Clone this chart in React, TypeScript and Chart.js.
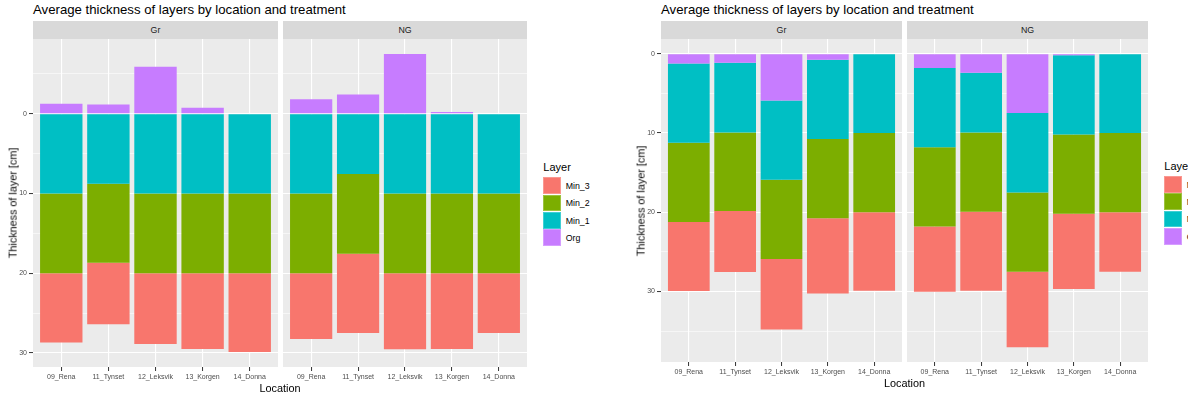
import React, { useEffect, useRef } from "react";
import { Chart, registerables } from "chart.js";

Chart.register(...registerables);

// ---------- data ----------
const locations = ["09_Rena", "11_Tynset", "12_Leksvik", "13_Korgen", "14_Donna"];
const layers = ["Min_3", "Min_2", "Min_1", "Org"];
const layerColors = ["#F8766D", "#7CAE00", "#00BFC4", "#C77CFF"];

// average layer thickness [cm], treatment Gr
const grOrg = [1.25, 1.15, 5.9, 0.75, 0];
const grMin1 = [10, 8.8, 10, 10, 10];
const grMin2 = [10, 9.9, 10, 10, 10];
const grMin3 = [8.7, 7.7, 8.9, 9.5, 9.9];

// average layer thickness [cm], treatment NG
const ngOrg = [1.8, 2.4, 7.5, 0.2, 0];
const ngMin1 = [10, 7.55, 10, 10, 10];
const ngMin2 = [10, 10, 10, 10, 10];
const ngMin3 = [8.25, 9.95, 9.55, 9.5, 7.5];

const majorTicks = [0, 10, 20, 30];
const minorTicks = [-5, 5, 15, 25, 35];

const chartTitle = "Average thickness of layers by location and treatment";
const yTitle = "Thickness of layer [cm]";
const xTitle = "Location";
const legendTitle = "Layer";

// ---------- helpers ----------
const FONT = '"Liberation Sans", Arial, Helvetica, sans-serif';

type Facet = { name: string; org: number[]; min1: number[]; min2: number[]; min3: number[] };
const facets: Facet[] = [
  { name: "Gr", org: grOrg, min1: grMin1, min2: grMin2, min3: grMin3 },
  { name: "NG", org: ngOrg, min1: ngMin1, min2: ngMin2, min3: ngMin3 },
];

const colorOf = (name: string) => layerColors[layers.indexOf(name)];

function expand(lo: number, hi: number): [number, number] {
  const r = hi - lo;
  return [lo - 0.05 * r, hi + 0.05 * r];
}

// left figure: Org drawn above 0 (negative), mineral layers below 0
const leftRange = expand(
  Math.min(...facets.flatMap((f) => f.org.map((v) => -v))),
  Math.max(...facets.flatMap((f) => f.min1.map((v, i) => v + f.min2[i] + f.min3[i])))
);
// right figure: all layers stacked from the surface
const rightRange = expand(
  0,
  Math.max(...facets.flatMap((f) => f.org.map((v, i) => v + f.min1[i] + f.min2[i] + f.min3[i])))
);

type PanelProps = {
  x: number;
  y: number;
  axisW: number;
  w: number;
  h: number;
  axisH: number;
  facet: Facet;
  mode: "left" | "right";
  range: [number, number];
  showY: boolean;
};

function Panel({ x, y, axisW, w, h, axisH, facet, mode, range, showY }: PanelProps) {
  const ref = useRef<HTMLCanvasElement>(null);
  useEffect(() => {
    if (!ref.current) return;
    const order: [string, number[], number][] =
      mode === "left"
        ? [
            ["Min_1", facet.min1, 1],
            ["Min_2", facet.min2, 1],
            ["Min_3", facet.min3, 1],
            ["Org", facet.org, -1],
          ]
        : [
            ["Org", facet.org, 1],
            ["Min_1", facet.min1, 1],
            ["Min_2", facet.min2, 1],
            ["Min_3", facet.min3, 1],
          ];
    const datasets = order.map(([name, arr, s]) => ({
      label: name,
      data: arr.map((v, i) => ({ x: i + 1, y: s * v })),
      backgroundColor: colorOf(name),
      borderWidth: 0,
      categoryPercentage: 1,
      barPercentage: 0.9,
    }));
    const yTicks = [...majorTicks, ...minorTicks]
      .filter((v) => v > range[0] && v < range[1])
      .sort((a, b) => a - b);
    const isMajor = (v: any) => majorTicks.includes(v);
    const bg = {
      id: "panelBg",
      beforeDraw(chart: any) {
        const { ctx, chartArea: a } = chart;
        ctx.save();
        ctx.fillStyle = "#EBEBEB";
        ctx.fillRect(a.left, a.top, a.right - a.left, a.bottom - a.top);
        ctx.restore();
      },
    };
    const chart = new Chart(ref.current, {
      type: "bar",
      data: { datasets } as any,
      options: {
        responsive: false,
        animation: false,
        devicePixelRatio: 1,
        layout: { padding: 0 },
        plugins: {
          legend: { display: false },
          tooltip: { enabled: false },
          title: { display: false },
        },
        scales: {
          x: {
            type: "linear",
            min: 0.4,
            max: locations.length + 0.6,
            bounds: "data",
            stacked: true,
            offset: false,
            afterBuildTicks: (s: any) => {
              s.ticks = locations.map((_, i) => ({ value: i + 1 }));
            },
            afterFit: (s: any) => {
              s.height = axisH;
              s.paddingLeft = 0;
              s.paddingRight = 0;
            },
            grid: {
              color: "#FFFFFF",
              lineWidth: 1.1,
              drawTicks: true,
              tickLength: 4,
              tickColor: "#333333",
              tickWidth: 1,
              offset: false,
            },
            border: { display: false },
            ticks: {
              autoSkip: false,
              maxRotation: 0,
              minRotation: 0,
              padding: 2,
              color: "#4D4D4D",
              font: { family: FONT, size: 7 },
              callback: (v: any) => locations[Math.round(v) - 1] ?? "",
            },
          },
          y: {
            type: "linear",
            reverse: true,
            min: range[0],
            max: range[1],
            bounds: "data",
            stacked: true,
            afterBuildTicks: (s: any) => {
              s.ticks = yTicks.map((v) => ({ value: v }));
            },
            afterFit: (s: any) => {
              s.width = axisW;
              s.paddingTop = 0;
              s.paddingBottom = 0;
            },
            grid: {
              color: "#FFFFFF",
              lineWidth: (c: any) => (isMajor(c.tick?.value) ? 1.1 : 0.55),
              drawTicks: showY,
              tickLength: 4,
              tickColor: (c: any) => (isMajor(c.tick?.value) ? "#333333" : "rgba(0,0,0,0)"),
              tickWidth: 1,
            },
            border: { display: false },
            ticks: {
              display: showY,
              padding: 2,
              color: "#4D4D4D",
              font: { family: FONT, size: 7 },
              callback: (v: any) => (isMajor(v) ? String(v) : ""),
            },
          },
        },
      } as any,
      plugins: [bg],
    });
    return () => chart.destroy();
  }, []);
  const cw = axisW + w;
  const ch = h + axisH;
  return (
    <canvas
      ref={ref}
      width={cw}
      height={ch}
      style={{ position: "absolute", left: x - axisW, top: y, width: cw, height: ch }}
    />
  );
}

function Txt({
  x,
  y,
  size,
  color = "#000",
  anchor = "center",
  rotate = false,
  children,
}: {
  x: number;
  y: number;
  size: number;
  color?: string;
  anchor?: "left" | "center";
  rotate?: boolean;
  children: React.ReactNode;
}) {
  const tx = anchor === "center" ? "-50%" : "0";
  return (
    <div
      style={{
        position: "absolute",
        left: x,
        top: y,
        fontSize: size,
        lineHeight: 1,
        color,
        whiteSpace: "nowrap",
        fontFamily: FONT,
        transform: `translate(${tx}, -50%)${rotate ? " rotate(-90deg)" : ""}`,
        transformOrigin: rotate ? "0 0" : undefined,
      }}
    >
      {children}
    </div>
  );
}

function RotTxt({ x, y, size, children }: { x: number; y: number; size: number; children: React.ReactNode }) {
  return (
    <div
      style={{
        position: "absolute",
        left: x,
        top: y,
        fontSize: size,
        lineHeight: 1,
        whiteSpace: "nowrap",
        fontFamily: FONT,
        color: "#000",
        transform: "translate(-50%, -50%) rotate(-90deg)",
      }}
    >
      {children}
    </div>
  );
}

function Strip({ x, w, label }: { x: number; w: number; label: string }) {
  return (
    <div
      style={{
        position: "absolute",
        left: x,
        top: 21,
        width: w,
        height: 18,
        background: "#D9D9D9",
        color: "#1A1A1A",
        fontFamily: FONT,
        fontSize: 8.8,
        lineHeight: "18px",
        textAlign: "center",
      }}
    >
      {label}
    </div>
  );
}

function Legend({ x, y }: { x: number; y: number }) {
  const key = 17.3;
  return (
    <>
      <Txt x={x} y={y} size={11} anchor="left">
        {legendTitle}
      </Txt>
      {layers.map((name, i) => (
        <React.Fragment key={name}>
          <div
            style={{
              position: "absolute",
              left: x,
              top: y + 10.3 + i * key,
              width: key,
              height: key - 0.6,
              background: colorOf(name),
              boxShadow: "inset 0 0 0 1px rgba(255,255,255,0.25)",
            }}
          />
          <Txt x={x + 22.4} y={y + 10.3 + i * key + key / 2} size={8.8} anchor="left">
            {name}
          </Txt>
        </React.Fragment>
      ))}
    </>
  );
}

export default function App() {
  // left figure geometry
  const L = { grX: 33, ngX: 283, pw: 245, pwNg: 244, top: 39, h: 328 };
  // right figure geometry
  const R = { grX: 661, ngX: 907, pw: 241, top: 39, h: 323 };
  return (
    <div
      style={{
        position: "fixed",
        left: 0,
        top: 0,
        width: 1188,
        height: 398,
        overflow: "hidden",
        background: "#FFFFFF",
        fontFamily: FONT,
      }}
    >
      {/* ---------- left figure ---------- */}
      <Txt x={33} y={10} size={13.2} anchor="left">
        {chartTitle}
      </Txt>
      <Strip x={L.grX} w={L.pw} label={facets[0].name} />
      <Strip x={L.ngX} w={L.pwNg} label={facets[1].name} />
      <Panel x={L.grX} y={L.top} axisW={33} w={L.pw} h={L.h} axisH={30} facet={facets[0]} mode="left" range={leftRange} showY={true} />
      <Panel x={L.ngX} y={L.top} axisW={0} w={L.pwNg} h={L.h} axisH={30} facet={facets[1]} mode="left" range={leftRange} showY={false} />
      <RotTxt x={13.3} y={203} size={10.8}>
        {yTitle}
      </RotTxt>
      <Txt x={280} y={388.3} size={10.9}>
        {xTitle}
      </Txt>
      <Legend x={543.3} y={167} />

      {/* ---------- right figure ---------- */}
      <Txt x={661} y={10} size={13.2} anchor="left">
        {chartTitle}
      </Txt>
      <Strip x={R.grX} w={R.pw} label={facets[0].name} />
      <Strip x={R.ngX} w={R.pw} label={facets[1].name} />
      <Panel x={R.grX} y={R.top} axisW={41} w={R.pw} h={R.h} axisH={30} facet={facets[0]} mode="right" range={rightRange} showY={true} />
      <Panel x={R.ngX} y={R.top} axisW={0} w={R.pw} h={R.h} axisH={30} facet={facets[1]} mode="right" range={rightRange} showY={false} />
      <RotTxt x={640.7} y={200.5} size={10.8}>
        {yTitle}
      </RotTxt>
      <Txt x={904.5} y={382.7} size={10.9}>
        {xTitle}
      </Txt>
      <Legend x={1164.3} y={165.7} />
    </div>
  );
}
